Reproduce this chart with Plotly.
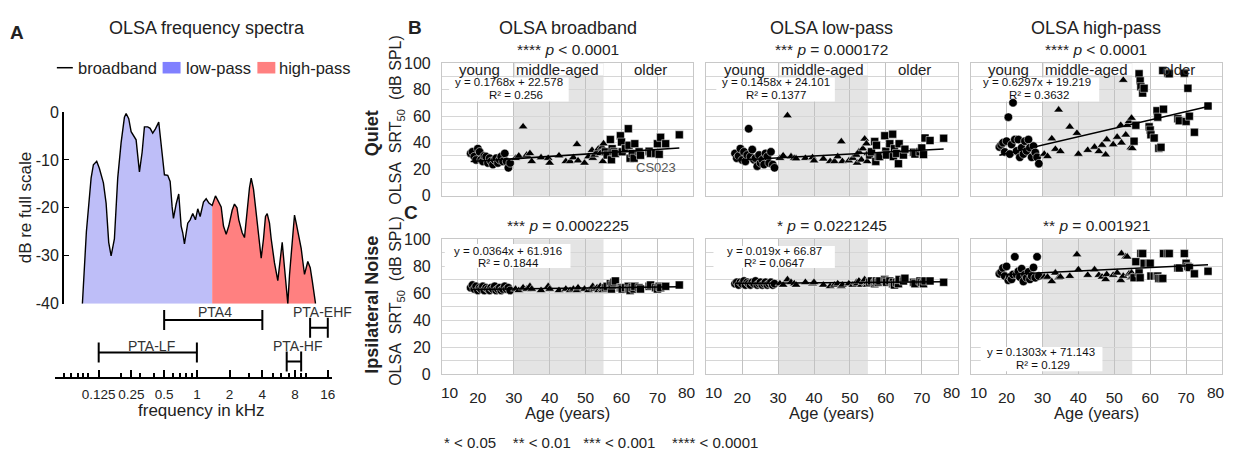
import numpy as np
import plotly.graph_objects as go

W, H = 1235, 461
FONT = "Liberation Sans, Arial, Helvetica, sans-serif"


def fx(p):
    return p / W


def fy(p):
    return 1 - p / H


# ---------------------------------------------------------------- data
# Panel A: OLSA long-term spectrum
spec_freq_khz = [0.0885, 0.0963, 0.1064, 0.1117, 0.1198, 0.1269, 0.1381, 0.1462, 0.1545, 0.1626,
                 0.1743, 0.1870, 0.2009, 0.2155, 0.2234, 0.2361, 0.2484, 0.2608, 0.2761, 0.2857,
                 0.2962, 0.3136, 0.3292, 0.3531, 0.3715, 0.3925, 0.4157, 0.4458, 0.4690, 0.4852,
                 0.5030, 0.5394, 0.5675, 0.5921, 0.6087, 0.6445, 0.6810, 0.7166, 0.7413, 0.7684,
                 0.7966, 0.8241, 0.8671, 0.9162, 0.9701, 1.0187, 1.0718, 1.1494, 1.2171, 1.2914,
                 1.3821, 1.4823, 1.5630, 1.6726, 1.7561, 1.8595, 1.9646, 2.1116, 2.2170, 2.3376,
                 2.4286, 2.6100, 2.7403, 2.8771, 3.0468, 3.1584, 3.3164, 3.4599, 3.7100, 3.9035,
                 4.0985, 4.2765, 4.4333, 4.6546, 4.8256, 5.1748, 5.5490, 5.8388, 6.0921, 6.3956,
                 6.8586, 7.1110, 7.5298, 7.9056, 8.1955, 8.6604, 9.1125, 9.4266, 9.7721, 10.480,
                 11.026, 11.504, 12.338]
spec_level_db = [-40, -25, -13.8, -11, -10.3, -11.8, -14.8, -19, -27.2, -30,
                 -26.5, -13.8, -6.4, -1.1, -0.3, -1.4, -4.1, -4.8, -5.8, -9.1,
                 -12.5, -8.4, -3.1, -3.1, -3.4, -4.4, -3.5, -2.1, -6.4, -9.1,
                 -13.1, -13.2, -14.5, -19.8, -22.2, -19.2, -17.1, -23.8, -25.2, -27.5,
                 -25.2, -23.2, -22.5, -21.2, -22.5, -20.2, -21.8, -18.8, -18.1, -19,
                 -19.5, -17.5, -18.5, -19.8, -23.8, -25.5, -23.8, -20.5, -19.2, -20,
                 -22.5, -25.2, -26.2, -21.2, -15.8, -13.8, -16.1, -19.8, -25.8, -30.5,
                 -26.5, -21.8, -21.2, -23.2, -26.5, -31.5, -35.2, -30.5, -27.2, -32.5,
                 -40, -34, -27.2, -21.5, -23.2, -25.8, -28.5, -31.2, -33.9, -31.2,
                 -32.5, -35.2, -40]
lowpass_cutoff_khz = 1.3821
spec_floor_db = -40

pta_names = ["PTA4", "PTA-EHF", "PTA-LF", "PTA-HF"]
pta_low_khz = [0.5, 11.0, 0.125, 6.7]
pta_high_khz = [4.0, 16.0, 1.0, 9.1]

freq_tick_vals = [0.125, 0.25, 0.5, 1, 2, 4, 8, 16]
freq_tick_text = ["0.125", "0.25", "0.5", "1", "2", "4", "8", "16"]
db_tick_vals = [0, -10, -20, -30, -40]
db_tick_text = ["0", "-10", "-20", "-30", "-40"]

# Panels B/C: ages of the participants (years)
age_young = [18.0, 18.5, 19.0, 19.5, 20.0, 20.5, 20.9, 21.4, 21.8, 22.3, 22.8, 23.3,
             23.7, 24.2, 24.7, 25.1, 25.6, 26.1, 26.5, 27.0, 27.5, 28.0, 28.5, 29.0]
age_middle = [30.5, 31.4, 32.6, 33.6, 34.5, 35.0, 37.6, 39.6, 40.0, 42.6, 44.5, 45.7, 46.6,
              47.6, 47.9, 49.7, 50.8, 51.8, 52.0, 52.5, 53.2, 53.6, 54.1, 54.6, 54.8, 55.0]
age_older = [55.5, 56.0, 56.9, 57.2, 57.4, 57.9, 58.3, 59.7, 60.0, 60.2, 61.1, 61.9, 62.1, 62.4,
             63.0, 63.5, 63.7, 64.9, 65.3, 67.7, 68.1, 69.5, 70.0, 70.5, 70.9, 72.3, 76.1]

# SRT50 in quiet (dB SPL)
quiet_bb_young = [31.9, 33.1, 29.5, 27.0, 35.5, 33.1, 27.1, 25.9, 30.0, 29.5, 24.7, 28.3,
                  25.9, 23.5, 27.0, 28.3, 24.7, 27.1, 29.5, 25.9, 31.9, 25.9, 21.1, 24.7]
quiet_bb_middle = [28.3, 30.0, 52.0, 30.7, 31.9, 25.9, 28.8, 28.3, 24.7, 30.2, 25.9, 25.9, 28.8,
                   38.7, 26.4, 24.7, 29.5, 34.3, 28.3, 30.7, 33.1, 35.5, 31.9, 36.7, 25.9, 39.2]
quiet_bb_older = [33.1, 30.7, 42.3, 27.1, 35.5, 33.1, 31.9, 45.2, 40.4, 33.1, 35.5, 50.5, 38.0, 28.3,
                  31.9, 28.3, 39.2, 33.1, 30.5, 33.6, 31.9, 31.9, 39.2, 31.2, 44.0, 39.2, 45.9]

quiet_lp_young = [31.9, 28.3, 30.0, 35.5, 27.0, 33.1, 25.9, 30.7, 50.5, 29.5, 34.8, 27.1,
                  28.3, 22.3, 30.7, 24.7, 27.1, 23.5, 31.9, 29.5, 24.7, 33.1, 23.5, 21.1]
quiet_lp_middle = [28.3, 30.2, 60.4, 29.5, 28.3, 28.0, 28.3, 28.8, 26.4, 27.8, 25.9, 25.9, 29.5,
                   40.8, 25.9, 26.4, 28.3, 30.7, 24.7, 33.1, 27.1, 35.5, 42.8, 39.2, 25.9, 31.9]
quiet_lp_older = [30.7, 33.1, 40.8, 25.9, 38.0, 29.5, 29.5, 45.2, 33.6, 30.7, 39.2, 46.4, 29.5, 35.5,
                  31.9, 24.2, 39.2, 30.7, 35.1, 32.7, 31.4, 33.1, 36.0, 31.0, 43.5, 41.6, 43.3]

quiet_hp_young = [36.7, 38.2, 39.9, 33.0, 41.1, 59.2, 31.4, 38.6, 70.0, 42.3, 33.8, 42.3,
                  29.0, 36.2, 31.4, 41.1, 33.8, 42.3, 36.2, 29.0, 37.4, 32.6, 29.0, 24.2]
quiet_hp_middle = [31.4, 29.7, 43.0, 35.1, 64.7, 33.4, 51.9, 47.1, 31.4, 34.3, 36.7, 33.4, 38.2,
                   30.9, 42.3, 38.6, 44.2, 53.1, 39.9, 87.0, 45.9, 53.1, 56.0, 36.2, 58.5, 35.7]
quiet_hp_older = [41.1, 53.1, 91.8, 86.5, 82.1, 77.3, 80.9, 51.9, 49.5, 45.9, 43.5, 64.0, 59.2, 35.8,
                  36.5, 94.2, 65.2, 92.3, 91.8, 58.0, 56.5, 92.3, 56.0, 80.9, 59.9, 47.8, 67.6]

# SRT50 in ipsilateral noise (dB SPL)
noise_bb_young = [64, 66, 63, 65, 62, 64, 63, 65, 62, 64, 63, 62,
                  64, 63, 65, 62, 63, 64, 62, 63, 65, 63, 64, 62]
noise_bb_middle = [63, 62, 64, 63, 65, 63, 62, 65, 63, 62, 63, 62, 63,
                   62, 64, 63, 62, 64, 65, 63, 64, 62, 65, 63, 62, 64]
noise_bb_older = [64, 65, 67, 63, 66, 68, 69, 64, 64, 63, 64, 65, 63, 62,
                  64, 63, 65, 64, 63, 65, 66, 64, 63, 65, 64, 65, 66]

noise_lp_young = [67, 68, 66, 68, 67, 69, 66, 68, 67, 66, 68, 67,
                  69, 66, 67, 68, 66, 67, 68, 66, 67, 68, 66, 67]
noise_lp_middle = [67, 66, 70, 68, 67, 66, 68, 67, 68, 66, 65, 66, 67,
                   65, 66, 67, 66, 68, 67, 69, 66, 68, 70, 67, 66, 68]
noise_lp_older = [68, 69, 67, 68, 69, 68, 69, 70, 69, 68, 69, 67, 68, 66,
                  68, 67, 70, 69, 71, 68, 67, 69, 68, 67, 69, 69, 68]

noise_hp_young = [74.3, 75.7, 78.6, 72.6, 79.8, 69.5, 71.9, 70.2, 73.8, 86.9, 73.8, 76.2,
                  71.9, 78.1, 68.6, 73.8, 71.4, 75.7, 70.2, 72.6, 79.0, 71.4, 86.9, 72.6]
noise_hp_middle = [71.9, 71.9, 68.6, 75.0, 71.4, 72.0, 72.5, 88.6, 77.4, 73.3, 77.4, 73.3, 72.0,
                   70.2, 73.8, 73.3, 75.0, 69.5, 89.3, 72.6, 86.9, 86.9, 74.3, 71.4, 75.0, 72.0]
noise_hp_older = [71.4, 83.3, 75.0, 71.4, 89.3, 89.3, 82.1, 82.1, 82.1, 72.6, 72.6, 72.6, 72.6, 70.9,
                  70.9, 70.9, 89.3, 89.3, 89.3, 78.6, 78.6, 89.3, 82.1, 79.8, 79.0, 74.3, 76.2]

# Regression results
quiet_slope = [0.1768, 0.1458, 0.6297]
quiet_intercept = [22.578, 24.101, 19.219]
quiet_r2 = [0.256, 0.1377, 0.3632]
noise_slope = [0.0364, 0.019, 0.1303]
noise_intercept = [61.916, 66.87, 71.143]
noise_r2 = [0.1844, 0.0647, 0.129]

quiet_p_text = ["**** <i>p</i> &lt; 0.0001", "*** <i>p</i> = 0.000172", "**** <i>p</i> &lt; 0.0001"]
noise_p_text = ["*** <i>p</i> = 0.0002225", "* <i>p</i> = 0.0221245", "** <i>p</i> = 0.001921"]

condition_titles = ["OLSA broadband", "OLSA low-pass", "OLSA high-pass"]
group_labels = ["young", "middle-aged", "older"]
age_range = [10, 80]
age_inner_ticks = [20, 30, 40, 50, 60, 70]
age_edge_labels = ["10", "80"]
srt_ticks = [0, 20, 40, 60, 80, 100]
srt_minor = [10, 30, 50, 70, 90]

# ---------------------------------------------------------------- figure
fig = go.Figure()
annotations = []
shapes = []


def ann(text, x, y, size=16, bold=False, color="#222222", xanchor="center",
        yanchor="middle", angle=0, xref="paper", yref="paper", xshift=0):
    if bold:
        text = "<b>" + text + "</b>"
    if xref == "paper":
        x = fx(x)
    if yref == "paper":
        y = fy(y)
    annotations.append(dict(text=text, x=x, y=y, xref=xref, yref=yref, showarrow=False,
                            xanchor=xanchor, yanchor=yanchor, textangle=angle, xshift=xshift,
                            font=dict(family=FONT, size=size, color=color)))


# ---- Panel A
f = np.array(spec_freq_khz)
d = np.array(spec_level_db)
lo = f <= lowpass_cutoff_khz
hi = f >= lowpass_cutoff_khz
fig.add_trace(go.Scatter(x=list(f[lo]) + [f[lo][-1], f[lo][0]],
                         y=list(d[lo]) + [spec_floor_db, spec_floor_db],
                         fill="toself", fillcolor="#BEBEF8", mode="lines", line=dict(width=0),
                         xaxis="x7", yaxis="y7", showlegend=False, hoverinfo="skip"))
fig.add_trace(go.Scatter(x=list(f[hi]) + [f[hi][-1], f[hi][0]],
                         y=list(d[hi]) + [spec_floor_db, spec_floor_db],
                         fill="toself", fillcolor="#FF8080", mode="lines", line=dict(width=0),
                         xaxis="x7", yaxis="y7", showlegend=False, hoverinfo="skip"))
fig.add_trace(go.Scatter(x=f, y=d, mode="lines", line=dict(color="black", width=1.4),
                         xaxis="x7", yaxis="y7", showlegend=False, hoverinfo="skip"))

pta_level = [0.82, 0.71, 0.35, 0.22]
for name, a, b, lev in zip(pta_names, pta_low_khz, pta_high_khz, pta_level):
    c = float(np.sqrt(a * b))
    fig.add_trace(go.Scatter(x=[c], y=[lev], mode="markers",
                             marker=dict(size=1, color="rgba(0,0,0,0)"),
                             error_x=dict(type="data", symmetric=False, array=[b - c],
                                          arrayminus=[c - a], color="black", thickness=2,
                                          width=10),
                             xaxis="x8", yaxis="y8", showlegend=False, hoverinfo="skip"))

pta_label_pos = [(216, 316), (323, 316), (152, 351), (299, 351)]
for name, (lx, ly) in zip(pta_names, pta_label_pos):
    ann(name, lx, ly, size=14, color="#333333")

xr = [np.log10(0.0494), np.log10(17.56)]
minor_vals = [v * m for m in (0.01, 0.1, 1, 10) for v in range(1, 10)]
minor_vals = [v for v in minor_vals if 0.049 < v < 17.5]

layout_axes = {}
layout_axes["xaxis7"] = dict(domain=[fx(55), fx(333)], anchor="y7", type="log", range=xr,
                             visible=False)
layout_axes["yaxis7"] = dict(domain=[fy(307), fy(108)], anchor="free", position=fx(63),
                             range=[-40, 0], tickvals=db_tick_vals, ticktext=db_tick_text,
                             ticks="inside", ticklen=5, tickcolor="black", showline=True,
                             linecolor="black", linewidth=1.5, showgrid=False, zeroline=False,
                             tickfont=dict(family=FONT, size=16, color="#222222"))
layout_axes["xaxis8"] = dict(domain=[fx(55), fx(333)], anchor="y8", type="log", range=xr,
                             tickvals=freq_tick_vals, ticktext=freq_tick_text, ticks="inside",
                             ticklen=7, tickwidth=1.5, tickcolor="black", showline=True,
                             linecolor="black", linewidth=1.5, showgrid=False, zeroline=False,
                             tickangle=0,
                             minor=dict(tickmode="array", tickvals=minor_vals, ticks="inside",
                                        ticklen=4, tickcolor="black", showgrid=False),
                             tickfont=dict(family=FONT, size=13.5, color="#222222"),
                             ticklabelstandoff=4)
layout_axes["yaxis8"] = dict(domain=[fy(383), fy(311)], anchor="x8", range=[0, 1], visible=False)

# legend of panel A
shapes.append(dict(type="line", xref="paper", yref="paper", x0=fx(57), x1=fx(73), y0=fy(62), y1=fy(62),
                   line=dict(color="black", width=1.5)))
shapes.append(dict(type="rect", xref="paper", yref="paper", x0=fx(163), x1=fx(181), y0=fy(68), y1=fy(56),
                   fillcolor="#8080FF", line=dict(width=0)))
shapes.append(dict(type="rect", xref="paper", yref="paper", x0=fx(258), x1=fx(276), y0=fy(68), y1=fy(56),
                   fillcolor="#FF8080", line=dict(width=0)))
ann("broadband", 76, 62, size=16.5, xanchor="left")
ann("low-pass", 184, 62, size=16.5, xanchor="left")
ann("high-pass", 278, 62, size=16.5, xanchor="left")
ann("OLSA frequency spectra", 208, 21, size=18)
ann("A", 17, 25, size=19, bold=True)
ann("dB re full scale", 25, 207, size=17, angle=-90)
ann("frequency in kHz", 202, 418, size=17)

# ---- Panels B / C
cols_px = [(443, 695), (708, 960), (973, 1225)]
rows_px = [(57, 195), (240, 380)]
srt_data = [
    [(quiet_bb_young, quiet_bb_middle, quiet_bb_older),
     (quiet_lp_young, quiet_lp_middle, quiet_lp_older),
     (quiet_hp_young, quiet_hp_middle, quiet_hp_older)],
    [(noise_bb_young, noise_bb_middle, noise_bb_older),
     (noise_lp_young, noise_lp_middle, noise_lp_older),
     (noise_hp_young, noise_hp_middle, noise_hp_older)],
]
slopes = [quiet_slope, noise_slope]
intercepts = [quiet_intercept, noise_intercept]
r2s = [quiet_r2, noise_r2]
ptexts = [quiet_p_text, noise_p_text]
ages = [age_young, age_middle, age_older]
symbols = ["circle", "triangle-up", "square"]
sizes = [8.5, 8.5, 8]
age_min = min(age_young)
age_max = max(age_older)

# equation box (x0, x1, y0, y1) and text positions (x1, y1, x2, y2) in data coords
eq_boxes = [[(12, 45.3, 71, 89), (12.8, 45.8, 71, 89), (10.6, 45.8, 71, 89)],
            [(10.8, 45.8, 78.6, 96.4), (12, 45.8, 78.6, 95), (12.8, 46.7, 2.1, 20)]]
eq_text_pos = [[(28.6, 85.5, 30.6, 76.2), (29.3, 85.5, 29.3, 76.2), (28.6, 85.5, 29.0, 76.2)],
               [(28.5, 91.5, 28.5, 82.6), (28.9, 91.5, 28.9, 82.6), (29.6, 16.1, 30.1, 6.9)]]

for r in range(2):
    y0p, y1p = rows_px[r]
    for c in range(3):
        x0p, x1p = cols_px[c]
        k = r * 3 + c + 1
        sfx = "" if k == 1 else str(k)
        xa, ya = "x" + sfx, "y" + sfx
        for grp_ages, vals, sym, sz in zip(ages, srt_data[r][c], symbols, sizes):
            fig.add_trace(go.Scatter(x=grp_ages, y=vals, mode="markers",
                                     marker=dict(symbol=sym, size=sz, color="black",
                                                 line=dict(color="white", width=0.5)),
                                     xaxis=xa, yaxis=ya, showlegend=False, hoverinfo="skip"))
        xs = np.array([age_min, age_max])
        fig.add_trace(go.Scatter(x=xs, y=slopes[r][c] * xs + intercepts[r][c], mode="lines",
                                 line=dict(color="black", width=1.5),
                                 xaxis=xa, yaxis=ya, showlegend=False, hoverinfo="skip"))

        layout_axes["xaxis" + sfx] = dict(
            domain=[fx(x0p), fx(x1p)], anchor=ya, range=age_range, tickvals=age_inner_ticks,
            tickangle=0,
            showgrid=True, gridcolor="#C2C2C2", gridwidth=1, zeroline=False, showline=True,
            mirror=True, linecolor="#C8C8C8", linewidth=1, ticks="", showticklabels=(r == 1),
            tickfont=dict(family=FONT, size=15.5, color="#222222"), ticklabelstandoff=9)
        layout_axes["yaxis" + sfx] = dict(
            domain=[fy(y1p), fy(y0p)], anchor=xa, range=[0, 100], tickvals=srt_ticks,
            showgrid=True, gridcolor="#D6D6D6", gridwidth=1,
            minor=dict(tickmode="array", tickvals=srt_minor, showgrid=True, gridcolor="#D6D6D6",
                       ticks=""),
            zeroline=False, showline=True, mirror=True, linecolor="#C8C8C8", linewidth=1,
            ticks="", showticklabels=(c == 0),
            tickfont=dict(family=FONT, size=16, color="#222222"), ticklabelstandoff=7)

        # middle-aged shading
        shapes.append(dict(type="rect", xref=xa, yref=ya + " domain", x0=30, x1=55, y0=0, y1=1,
                           fillcolor="#E4E4E4", line=dict(width=0), layer="below"))
        # equation box
        bx0, bx1, by0, by1 = eq_boxes[r][c]
        shapes.append(dict(type="rect", xref=xa, yref=ya, x0=bx0, x1=bx1, y0=by0, y1=by1,
                           fillcolor="white", line=dict(width=0), layer="between"))
        tx1, ty1, tx2, ty2 = eq_text_pos[r][c]
        ann("y = %sx + %s" % (slopes[r][c], intercepts[r][c]), tx1, ty1, size=11.5,
            xref=xa, yref=ya, color="#111111")
        ann("R² = %s" % r2s[r][c], tx2, ty2, size=11.5, xref=xa, yref=ya, color="#111111")

        cx = (x0p + x1p) / 2
        if r == 0:
            ann(condition_titles[c], cx, 21, size=18)
            ann(ptexts[r][c], cx, 43, size=15.5)
            # group labels
            for (gx0, gx1), gname, gx in zip([(10.4, 29.6), (30.4, 54.9), (60.4, 79.6)],
                                             group_labels, [20.6, 42.3, 68.0]):
                shapes.append(dict(type="rect", xref=xa, yref=ya, x0=gx0, x1=gx1, y0=90.7,
                                   y1=99.6, fillcolor="white", line=dict(width=0),
                                   layer="between"))
                ann(gname, gx, 95.3, size=15, xref=xa, yref=ya, color="#222222")
        else:
            ann(ptexts[r][c], cx, 226, size=15.5)
            ann("Age (years)", cx, 420, size=16.5)
            # edge tick labels, nudged inwards as in the reference
            ann(age_edge_labels[0], age_range[0], 399, size=15.5, xref=xa, xshift=8)
            ann(age_edge_labels[1], age_range[1], 399, size=15.5, xref=xa, xshift=-6)

ann("CS023", 69.6, 21, size=13, xref="x", yref="y", color="#555555")
ann("B", 416, 20, size=19, bold=True)
ann("C", 412, 212, size=19, bold=True)
ann("Quiet", 373, 130, size=18, bold=True, angle=-90)
ann("Ipsilateral Noise", 373, 308, size=18, bold=True, angle=-90)
ann("OLSA&nbsp; SRT<sub>50</sub>&nbsp; (dB SPL)", 398, 116, size=16, angle=-90)
ann("OLSA&nbsp; SRT<sub>50</sub>&nbsp; (dB SPL)", 398, 304, size=16, angle=-90)
ann("* &lt; 0.05&nbsp;&nbsp;&nbsp; ** &lt; 0.01&nbsp;&nbsp;&nbsp;*** &lt; 0.001&nbsp;&nbsp;&nbsp; **** &lt; 0.0001",
    443, 451, size=15, xanchor="left")

fig.update_layout(
    width=W, height=H, margin=dict(l=0, r=0, t=0, b=0), autosize=False,
    paper_bgcolor="white", plot_bgcolor="white",
    font=dict(family=FONT, size=15, color="#222222"),
    showlegend=False, annotations=annotations, shapes=shapes, **layout_axes)

fig.write_html("out.html")
